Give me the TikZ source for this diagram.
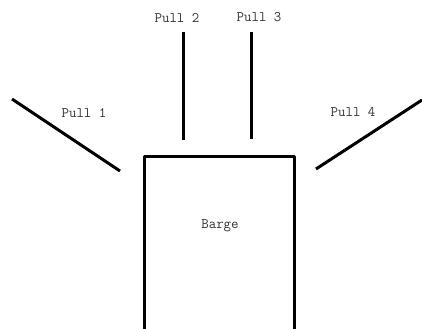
\documentclass[tikz,border=0pt]{standalone}
\begin{document}
\begin{tikzpicture}[x=1bp,y=-1bp,
  rope/.style={line width=3bp,draw=black},
  hull/.style={line width=3bp,draw=black,line join=round},
  lbl/.style={font=\fontsize{14.5bp}{16bp}\selectfont\ttfamily,text=black!80,inner sep=0pt}]
\useasboundingbox (0,0) rectangle (422,329);
% labels
\node[lbl] (p1) at (84,113) {Pull 1};
\node[lbl] (p2) at (177,18) {Pull 2};
\node[lbl] (p3) at (259,17) {Pull 3};
\node[lbl] (p4) at (353,112) {Pull 4};
\node[lbl] (barge) at (220,226) {Barge};
% rope ends
\coordinate (r1a) at (12,99);
\coordinate (r1b) at (120,171);
\coordinate (r2a) at (183,32);
\coordinate (r2b) at (183,140);
\coordinate (r3a) at (251,32);
\coordinate (r3b) at (251,139);
\coordinate (r4a) at (316,169);
\coordinate (r4b) at (422,100);
\draw[rope] (r1a) -- (r1b);
\draw[rope] (r2a) -- (r2b);
\draw[rope] (r3a) -- (r3b);
\draw[rope] (r4a) -- (r4b);
% barge hull
\coordinate (bl) at (144,330);
\coordinate (tl) at (144,156);
\coordinate (tr) at (294,156);
\coordinate (br) at (294,330);
\draw[hull] (bl) -- (tl) -- (tr) -- (br);
\end{tikzpicture}
\end{document}
